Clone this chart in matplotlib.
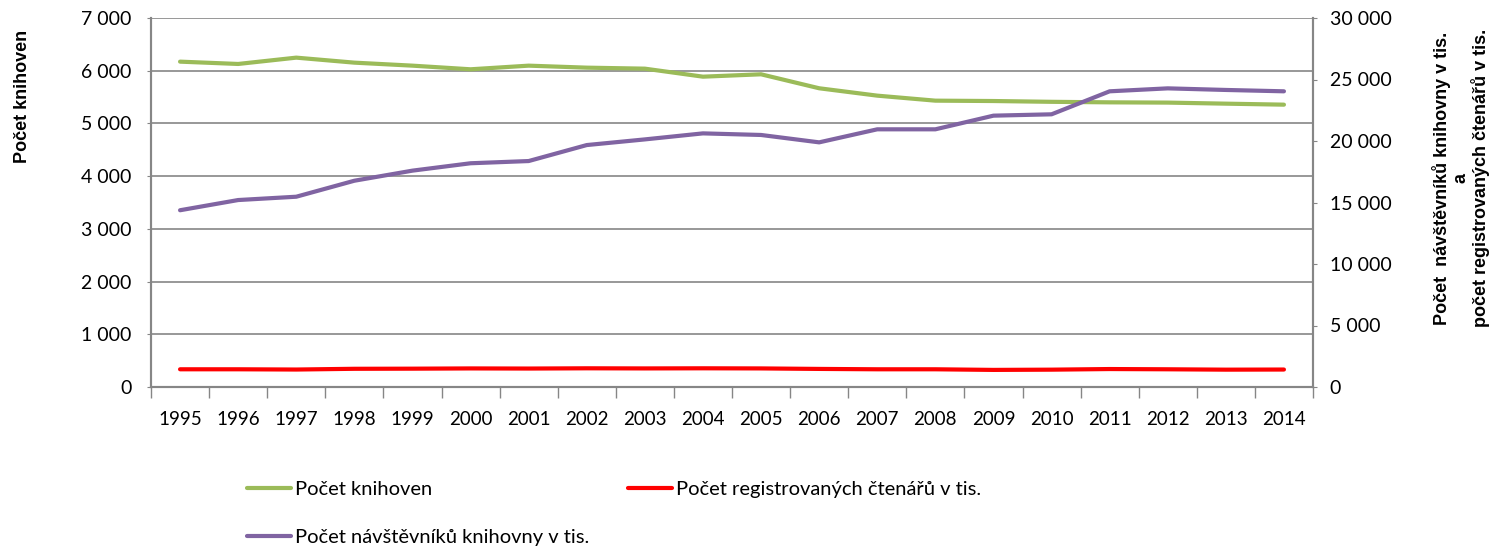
import matplotlib
matplotlib.use('Agg')
import matplotlib.pyplot as plt
from matplotlib.ticker import FuncFormatter, MultipleLocator, FixedLocator
import numpy as np

# data
years = [1995, 1996, 1997, 1998, 1999, 2000, 2001, 2002, 2003, 2004,
         2005, 2006, 2007, 2008, 2009, 2010, 2011, 2012, 2013, 2014]
knihovny = [6172, 6128, 6248, 6153, 6096, 6027, 6096, 6058, 6039, 5887,
            5932, 5667, 5527, 5432, 5425, 5410, 5400, 5395, 5375, 5356]
navstevnici = [14370, 15200, 15470, 16770, 17590, 18190, 18370, 19670, 20130, 20620,
               20490, 19890, 20950, 20950, 22060, 22170, 24040, 24280, 24150, 24040]
ctenari = [1440, 1440, 1420, 1480, 1490, 1510, 1500, 1520, 1510, 1520,
           1510, 1470, 1440, 1440, 1390, 1410, 1460, 1440, 1410, 1420]

grey = '#868686'
plt.rcParams['font.family'] = ['Lato', 'DejaVu Sans']

def space_thousands(v, pos):
    return f'{int(v):,}'.replace(',', ' ')

fig = plt.figure(figsize=(15.03, 5.49), dpi=100)
ax = fig.add_axes([151 / 1503, 1 - 387 / 549, 1162 / 1503, 369 / 549])
ax2 = ax.twinx()

x = np.arange(len(years))
l1, = ax.plot(x, knihovny, color='#9BBB59', lw=3, solid_capstyle='round', label='Počet knihoven')
l3, = ax2.plot(x, navstevnici, color='#8064A2', lw=3, solid_capstyle='round',
               label='Počet návštěvníků knihovny v tis.')
l2, = ax2.plot(x, ctenari, color='#FF0000', lw=3, solid_capstyle='round',
               label='Počet registrovaných čtenářů v tis.')

ax.set_xlim(-0.5, len(years) - 0.5)
ax.set_ylim(0, 7000)
ax2.set_ylim(0, 30000)
ax.yaxis.set_major_locator(MultipleLocator(1000))
ax2.yaxis.set_major_locator(MultipleLocator(5000))
ax.yaxis.set_major_formatter(FuncFormatter(space_thousands))
ax2.yaxis.set_major_formatter(FuncFormatter(space_thousands))
ax.grid(axis='y', color=grey, lw=1.2)
ax.set_axisbelow(True)

# category ticks between the years
ax.set_xticks(np.arange(-0.5, len(years), 1))
ax.set_xticklabels([])
ax.xaxis.set_minor_locator(FixedLocator(x))
ax.set_xticklabels([str(y) for y in years], minor=True)
ax.tick_params(axis='x', which='major', length=8, color=grey, width=1)
ax.tick_params(axis='x', which='minor', length=0, pad=17, labelsize=13.5)
ax.tick_params(axis='y', length=3, color=grey, labelsize=14, pad=11)
ax2.tick_params(axis='y', length=3, color=grey, labelsize=14, pad=9)

for a in (ax, ax2):
    a.spines['top'].set_visible(False)
    for s in ('left', 'right', 'bottom'):
        a.spines[s].set_color(grey)
        a.spines[s].set_linewidth(1.5)

fig.text(23 / 1503, 1 - 96 / 549, 'Počet knihoven', rotation=90, ha='center', va='center',
         fontsize=13, fontweight='bold', family='Liberation Sans')
fig.text(1461 / 1503, 1 - 178 / 549,
         'Počet  návštěvníků knihovny v tis.\na\npočet registrovaných čtenářů v tis.',
         rotation=90, ha='center', va='center', multialignment='center',
         fontsize=13, fontweight='bold', family='Liberation Sans', linespacing=1.1)

fig.legend(handles=[l1, l3, l2], ncol=2, loc='upper left',
           bbox_to_anchor=(247 / 1503, 1 - 481 / 549), frameon=False,
           fontsize=14.5, handlelength=2.2, handletextpad=0.2,
           columnspacing=1.9, labelspacing=1.55, borderpad=0, borderaxespad=0)

fig.savefig('out.png', dpi=100)
